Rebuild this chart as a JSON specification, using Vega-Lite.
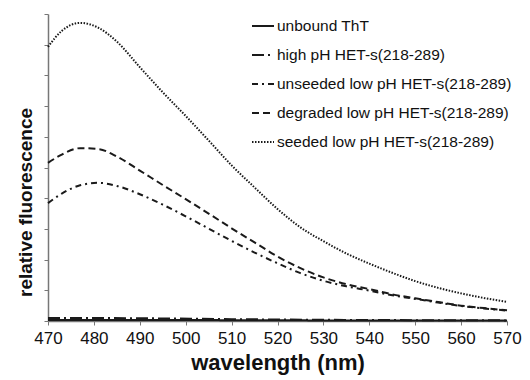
{
  "$schema": "https://vega.github.io/schema/vega-lite/v6.json",
  "width": 459,
  "height": 307,
  "autosize": "none",
  "padding": {"left": 48, "top": 14, "right": 23, "bottom": 59},
  "background": "white",
  "config": {
    "view": {"stroke": null},
    "font": "Liberation Sans"
  },
  "data": {
    "values": [
      {"wl": 470, "v": 0.03, "s": "unbound ThT"},
      {"wl": 500, "v": 0.03, "s": "unbound ThT"},
      {"wl": 530, "v": 0.02, "s": "unbound ThT"},
      {"wl": 570, "v": 0.02, "s": "unbound ThT"},
      {"wl": 470, "v": 0.1, "s": "high pH HET-s(218-289)"},
      {"wl": 490, "v": 0.09, "s": "high pH HET-s(218-289)"},
      {"wl": 510, "v": 0.06, "s": "high pH HET-s(218-289)"},
      {"wl": 530, "v": 0.04, "s": "high pH HET-s(218-289)"},
      {"wl": 570, "v": 0.02, "s": "high pH HET-s(218-289)"},
      {"wl": 470, "v": 3.84, "s": "unseeded low pH HET-s(218-289)"},
      {"wl": 473, "v": 4.15, "s": "unseeded low pH HET-s(218-289)"},
      {"wl": 477, "v": 4.42, "s": "unseeded low pH HET-s(218-289)"},
      {"wl": 481, "v": 4.5, "s": "unseeded low pH HET-s(218-289)"},
      {"wl": 485, "v": 4.4, "s": "unseeded low pH HET-s(218-289)"},
      {"wl": 490, "v": 4.13, "s": "unseeded low pH HET-s(218-289)"},
      {"wl": 495, "v": 3.79, "s": "unseeded low pH HET-s(218-289)"},
      {"wl": 500, "v": 3.41, "s": "unseeded low pH HET-s(218-289)"},
      {"wl": 505, "v": 3.01, "s": "unseeded low pH HET-s(218-289)"},
      {"wl": 510, "v": 2.61, "s": "unseeded low pH HET-s(218-289)"},
      {"wl": 515, "v": 2.23, "s": "unseeded low pH HET-s(218-289)"},
      {"wl": 520, "v": 1.88, "s": "unseeded low pH HET-s(218-289)"},
      {"wl": 525, "v": 1.56, "s": "unseeded low pH HET-s(218-289)"},
      {"wl": 530, "v": 1.31, "s": "unseeded low pH HET-s(218-289)"},
      {"wl": 535, "v": 1.13, "s": "unseeded low pH HET-s(218-289)"},
      {"wl": 540, "v": 0.99, "s": "unseeded low pH HET-s(218-289)"},
      {"wl": 545, "v": 0.84, "s": "unseeded low pH HET-s(218-289)"},
      {"wl": 550, "v": 0.72, "s": "unseeded low pH HET-s(218-289)"},
      {"wl": 555, "v": 0.6, "s": "unseeded low pH HET-s(218-289)"},
      {"wl": 560, "v": 0.49, "s": "unseeded low pH HET-s(218-289)"},
      {"wl": 565, "v": 0.41, "s": "unseeded low pH HET-s(218-289)"},
      {"wl": 570, "v": 0.34, "s": "unseeded low pH HET-s(218-289)"},
      {"wl": 470, "v": 5.15, "s": "degraded low pH HET-s(218-289)"},
      {"wl": 473, "v": 5.42, "s": "degraded low pH HET-s(218-289)"},
      {"wl": 477, "v": 5.63, "s": "degraded low pH HET-s(218-289)"},
      {"wl": 481, "v": 5.6, "s": "degraded low pH HET-s(218-289)"},
      {"wl": 485, "v": 5.36, "s": "degraded low pH HET-s(218-289)"},
      {"wl": 490, "v": 4.9, "s": "degraded low pH HET-s(218-289)"},
      {"wl": 495, "v": 4.43, "s": "degraded low pH HET-s(218-289)"},
      {"wl": 500, "v": 3.97, "s": "degraded low pH HET-s(218-289)"},
      {"wl": 505, "v": 3.5, "s": "degraded low pH HET-s(218-289)"},
      {"wl": 510, "v": 3.02, "s": "degraded low pH HET-s(218-289)"},
      {"wl": 515, "v": 2.56, "s": "degraded low pH HET-s(218-289)"},
      {"wl": 520, "v": 2.1, "s": "degraded low pH HET-s(218-289)"},
      {"wl": 525, "v": 1.72, "s": "degraded low pH HET-s(218-289)"},
      {"wl": 530, "v": 1.42, "s": "degraded low pH HET-s(218-289)"},
      {"wl": 535, "v": 1.2, "s": "degraded low pH HET-s(218-289)"},
      {"wl": 540, "v": 1.04, "s": "degraded low pH HET-s(218-289)"},
      {"wl": 545, "v": 0.87, "s": "degraded low pH HET-s(218-289)"},
      {"wl": 550, "v": 0.74, "s": "degraded low pH HET-s(218-289)"},
      {"wl": 555, "v": 0.62, "s": "degraded low pH HET-s(218-289)"},
      {"wl": 560, "v": 0.5, "s": "degraded low pH HET-s(218-289)"},
      {"wl": 565, "v": 0.42, "s": "degraded low pH HET-s(218-289)"},
      {"wl": 570, "v": 0.35, "s": "degraded low pH HET-s(218-289)"},
      {"wl": 470, "v": 8.93, "s": "seeded low pH HET-s(218-289)"},
      {"wl": 473, "v": 9.45, "s": "seeded low pH HET-s(218-289)"},
      {"wl": 477, "v": 9.71, "s": "seeded low pH HET-s(218-289)"},
      {"wl": 481, "v": 9.55, "s": "seeded low pH HET-s(218-289)"},
      {"wl": 485, "v": 9.1, "s": "seeded low pH HET-s(218-289)"},
      {"wl": 490, "v": 8.27, "s": "seeded low pH HET-s(218-289)"},
      {"wl": 495, "v": 7.45, "s": "seeded low pH HET-s(218-289)"},
      {"wl": 500, "v": 6.68, "s": "seeded low pH HET-s(218-289)"},
      {"wl": 505, "v": 5.88, "s": "seeded low pH HET-s(218-289)"},
      {"wl": 510, "v": 5.07, "s": "seeded low pH HET-s(218-289)"},
      {"wl": 515, "v": 4.35, "s": "seeded low pH HET-s(218-289)"},
      {"wl": 520, "v": 3.65, "s": "seeded low pH HET-s(218-289)"},
      {"wl": 525, "v": 3.05, "s": "seeded low pH HET-s(218-289)"},
      {"wl": 530, "v": 2.6, "s": "seeded low pH HET-s(218-289)"},
      {"wl": 535, "v": 2.2, "s": "seeded low pH HET-s(218-289)"},
      {"wl": 540, "v": 1.87, "s": "seeded low pH HET-s(218-289)"},
      {"wl": 545, "v": 1.57, "s": "seeded low pH HET-s(218-289)"},
      {"wl": 550, "v": 1.3, "s": "seeded low pH HET-s(218-289)"},
      {"wl": 555, "v": 1.08, "s": "seeded low pH HET-s(218-289)"},
      {"wl": 560, "v": 0.9, "s": "seeded low pH HET-s(218-289)"},
      {"wl": 565, "v": 0.75, "s": "seeded low pH HET-s(218-289)"},
      {"wl": 570, "v": 0.62, "s": "seeded low pH HET-s(218-289)"}
    ]
  },
  "mark": {"type": "line", "interpolate": "monotone", "color": "#1a1a1a", "strokeWidth": 2},
  "encoding": {
    "x": {
      "field": "wl", "type": "quantitative",
      "scale": {"domain": [470, 570], "nice": false},
      "axis": {
        "title": "wavelength (nm)", "values": [470,480,490,500,510,520,530,540,550,560,570],
        "labelFlush": false, "labelOverlap": false,
        "grid": false, "domainColor": "#777", "domainWidth": 1.5, "tickColor": "#777", "tickSize": 4,
        "labelFontSize": 17, "labelColor": "#111", "labelPadding": 5,
        "titleFontSize": 22, "titleFontWeight": "bold", "titleColor": "#111", "titlePadding": 6
      }
    },
    "y": {
      "field": "v", "type": "quantitative",
      "scale": {"domain": [0, 10], "nice": false},
      "axis": {
        "title": "relative fluorescence", "values": [0,1,2,3,4,5,6,7,8,9,10],
        "labels": false, "grid": false, "domainColor": "#777", "domainWidth": 1.5,
        "tickColor": "#777", "tickSize": 4,
        "titleFontSize": 19, "titleFontWeight": "bold", "titleColor": "#111",
        "titleX": -17, "titleY": 188, "titleBaseline": "alphabetic", "titleAngle": 270, "titleAlign": "center"
      }
    },
    "strokeDash": {
      "field": "s", "type": "nominal",
      "scale": {
        "domain": ["unbound ThT", "high pH HET-s(218-289)", "unseeded low pH HET-s(218-289)", "degraded low pH HET-s(218-289)", "seeded low pH HET-s(218-289)"],
        "range": [[1, 0], [12, 4, 2, 4], [6, 4, 2, 4], [7, 4], [1.5, 1.5]]
      },
      "legend": {
        "title": null, "orient": "none", "legendX": 203, "legendY": 0,
        "symbolType": "stroke", "symbolSize": 484, "symbolStrokeWidth": 2, "symbolStrokeColor": "#1a1a1a",
        "labelFontSize": 15.5, "labelColor": "#111", "rowPadding": 8, "labelOffset": 2,
        "labelLimit": 300
      }
    }
  }
}
